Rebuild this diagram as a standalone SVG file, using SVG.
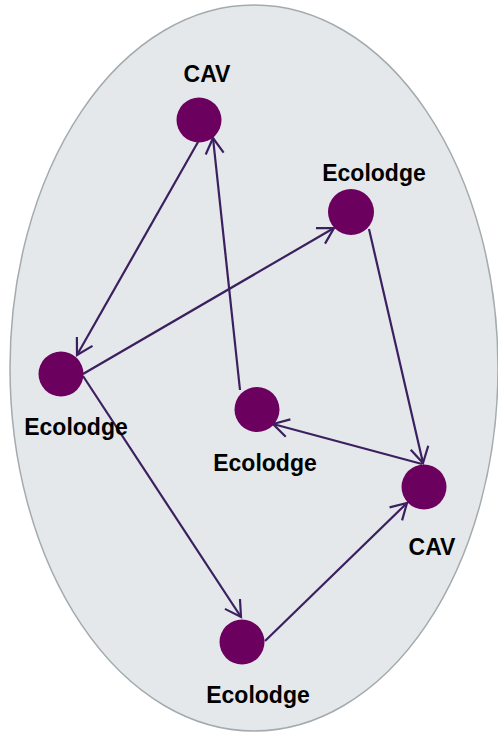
<svg xmlns="http://www.w3.org/2000/svg" width="498" height="733" viewBox="0 0 498 733">
<style>
.node{fill:#6b005f}
.lbl{font-family:"Liberation Sans",Arial,sans-serif;font-weight:bold;font-size:23px;fill:#000;text-anchor:middle}
.edge{stroke:#3b1f5f;stroke-width:2.2;fill:none}
</style>
<defs>
<marker id="arr" markerUnits="userSpaceOnUse" markerWidth="40" markerHeight="40" refX="0" refY="0" viewBox="-20 -20 40 40" orient="auto">
<path d="M-15.6,-9 L0,0 L-15.6,9" fill="none" stroke="#3b1f5f" stroke-width="2.2"/>
</marker>
</defs>
<ellipse cx="254" cy="368" rx="244" ry="363" fill="#e4e8ea" stroke="#a3abaf" stroke-width="1.5"/>
<g id="connectors">
<line class="edge" x1="198" y1="142" x2="77" y2="355" marker-end="url(#arr)"/>
<line class="edge" x1="240" y1="390" x2="213" y2="138" marker-end="url(#arr)"/>
<line class="edge" x1="83" y1="374" x2="334" y2="228" marker-end="url(#arr)"/>
<line class="edge" x1="369" y1="229" x2="423" y2="463" marker-end="url(#arr)"/>
<line class="edge" x1="422" y1="464" x2="273" y2="424" marker-end="url(#arr)"/>
<line class="edge" x1="83" y1="376" x2="241" y2="617" marker-end="url(#arr)"/>
<line class="edge" x1="265" y1="641" x2="407" y2="503" marker-end="url(#arr)"/>
</g>
<g id="n_cav_top"><circle class="node" cx="199" cy="120" r="22.5"/><text class="lbl" x="207" y="82">CAV</text></g>
<g id="n_eco_tr"><circle class="node" cx="351" cy="212" r="23"/><text class="lbl" x="374" y="181">Ecolodge</text></g>
<g id="n_eco_left"><circle class="node" cx="61" cy="374" r="22.5"/><text class="lbl" x="76" y="435">Ecolodge</text></g>
<g id="n_eco_mid"><circle class="node" cx="257" cy="409.5" r="22.5"/><text class="lbl" x="265" y="471">Ecolodge</text></g>
<g id="n_cav_right"><circle class="node" cx="424" cy="487" r="22.5"/><text class="lbl" x="432" y="555">CAV</text></g>
<g id="n_eco_bottom"><circle class="node" cx="242" cy="642" r="22.5"/><text class="lbl" x="258" y="703">Ecolodge</text></g>
</svg>
